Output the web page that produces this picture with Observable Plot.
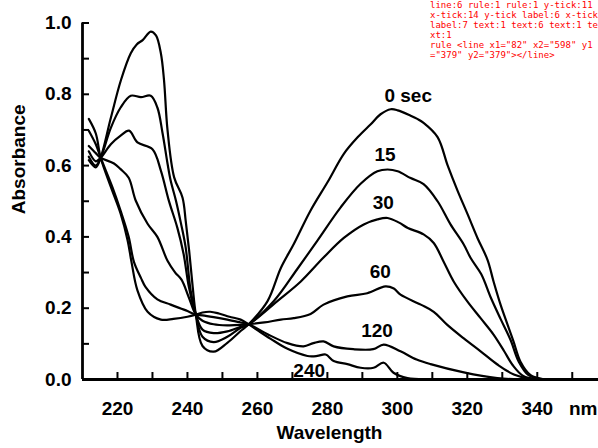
<!DOCTYPE html>
<html><head><meta charset="utf-8">
<script src="https://cdn.jsdelivr.net/npm/d3@7"></script>
<script src="https://cdn.jsdelivr.net/npm/@observablehq/plot@0.6"></script>
<style>html,body{margin:0;padding:0;background:#fff;} #dbg{position:absolute;left:430px;top:0;width:168px;font:9px monospace;color:red;white-space:pre-wrap;word-break:break-all;}</style>
</head><body><div id="chart"></div><div id="dbg"></div>
<script>
const seriesNames = ["0 sec", "15", "30", "60", "120", "240"];
const s0 = [[211.8,0.615],[213.8,0.595],[215.2,0.622],[218,0.73],[221,0.84],[223.8,0.915],[225.5,0.94],[227.2,0.952],[229.5,0.976],[231,0.965],[232.4,0.915],[233.3,0.84],[234.3,0.70],[236.2,0.567],[238.6,0.51],[239.5,0.445],[240.5,0.36],[241.5,0.26],[242.4,0.182],[244.3,0.094],[247.5,0.078],[251.4,0.103],[255.2,0.136],[257.5,0.155],[262.9,0.22],[266.7,0.313],[270.4,0.38],[275.2,0.474],[280.2,0.556],[284.7,0.633],[288.7,0.68],[292.4,0.716],[295.2,0.744],[298.1,0.758],[300.1,0.755],[303.8,0.74],[305.7,0.731],[307.5,0.72],[311.5,0.68],[314.4,0.60],[317.2,0.53],[320.1,0.463],[322.9,0.397],[325.8,0.335],[327.5,0.275],[329.5,0.21],[331.5,0.154],[333.2,0.107],[335.2,0.05],[338.1,0.012],[341,0.002],[345,0],[352,0]];
const s15 = [[211.8,0.625],[213.8,0.60],[215.2,0.622],[218.1,0.706],[220.9,0.763],[223.8,0.796],[226.7,0.792],[229.5,0.796],[231.4,0.763],[232.9,0.69],[234.3,0.606],[235.2,0.558],[236.7,0.502],[238.1,0.44],[239.5,0.37],[240.9,0.25],[242.4,0.182],[244.3,0.12],[247.5,0.105],[251.4,0.12],[255.2,0.145],[257.5,0.155],[264.7,0.22],[271.4,0.31],[277.1,0.389],[283.8,0.483],[289.5,0.549],[294.3,0.584],[297.2,0.589],[300.1,0.584],[303.8,0.565],[307.5,0.548],[311.5,0.50],[315.2,0.435],[318.9,0.38],[321,0.34],[324,0.295],[326.7,0.23],[329.5,0.17],[332.4,0.11],[334.7,0.05],[337.5,0.012],[341,0.002],[345,0],[352,0]];
const s30 = [[211.8,0.64],[213.8,0.612],[215.2,0.622],[218.1,0.66],[220.9,0.684],[223.3,0.698],[225.7,0.665],[230,0.646],[232.4,0.586],[234.7,0.501],[237.1,0.426],[238.9,0.352],[240.4,0.26],[242.4,0.182],[244.3,0.14],[247.5,0.13],[251.4,0.135],[255.2,0.148],[257.5,0.155],[265.7,0.22],[272.4,0.275],[278.9,0.342],[284.7,0.397],[290.4,0.435],[294.3,0.449],[297.2,0.453],[300.5,0.44],[303,0.425],[307.5,0.407],[310.4,0.383],[313.2,0.331],[316.1,0.275],[320,0.219],[323.8,0.172],[327.5,0.126],[330.5,0.08],[333,0.04],[336,0.01],[340,0.001],[352,0]];
const s60 = [[211.8,0.655],[213.8,0.635],[215.2,0.622],[219,0.606],[220.9,0.59],[223.2,0.566],[225.2,0.502],[228.6,0.437],[231.4,0.40],[234.3,0.333],[236.5,0.30],[238.3,0.28],[240.4,0.23],[242.4,0.182],[244.3,0.165],[247.5,0.155],[251.4,0.152],[255.2,0.153],[257.5,0.155],[262,0.16],[266.7,0.168],[270.4,0.172],[275.2,0.184],[278.9,0.21],[285.7,0.233],[291.4,0.242],[296.6,0.261],[299,0.255],[300.9,0.238],[306.7,0.21],[310.4,0.19],[314.2,0.154],[318.9,0.116],[323.8,0.079],[328.6,0.042],[333.3,0.014],[338,0.002],[352,0]];
const s120 = [[211.8,0.698],[213.8,0.66],[215.2,0.622],[218.6,0.538],[220.9,0.473],[223.2,0.40],[224.7,0.33],[226.7,0.285],[228,0.26],[231.4,0.225],[235.2,0.21],[240,0.192],[242.4,0.182],[244.3,0.18],[247.5,0.175],[251.4,0.168],[255.2,0.16],[257.5,0.155],[262.9,0.127],[268.6,0.102],[273.2,0.093],[276,0.102],[278.9,0.107],[281.8,0.093],[287.4,0.085],[293.1,0.085],[296.1,0.098],[300.9,0.079],[305.5,0.056],[309.5,0.043],[319,0.02],[328.6,0.004],[335,0],[352,0]];
const s240 = [[211.8,0.731],[213.8,0.69],[215.2,0.622],[218.1,0.54],[220.9,0.465],[222.9,0.39],[224,0.33],[225.7,0.25],[228.6,0.19],[232.4,0.168],[236,0.17],[240,0.176],[242.4,0.182],[244.3,0.188],[246.5,0.19],[249,0.185],[252,0.176],[255.2,0.168],[257.5,0.155],[260.5,0.135],[263.8,0.114],[268.6,0.086],[274.3,0.066],[277.1,0.066],[279.5,0.07],[281.8,0.052],[285.7,0.043],[289.5,0.033],[293.2,0.033],[296.1,0.047],[298.9,0.019],[302.9,0.004],[310,0],[352,0]];
const seriesData = [s0, s15, s30, s60, s120, s240];
const labelWl = [303.1, 296.5, 296.0, 295.1, 294.2, 274.8];
const labelAbs = [0.795, 0.629, 0.494, 0.303, 0.135, 0.025];
const xDomain = [210, 357.5];
const yDomain = [0, 1];
const xTicks = [220, 230, 240, 250, 260, 270, 280, 290, 300, 310, 320, 330, 340, 350];
const xTickLabels = [220, 240, 260, 280, 300, 320, 340];
const yTicks = [0, 0.1, 0.2, 0.3, 0.4, 0.5, 0.6, 0.7, 0.8, 0.9, 1.0];
const yTickLabels = [0, 0.2, 0.4, 0.6, 0.8, 1.0];
const rows = seriesNames.flatMap((name, i) => seriesData[i].map(([w, a]) => ({name, w, a})));
const labels = seriesNames.map((name, i) => ({name, w: labelWl[i], a: labelAbs[i]}));
const unitRows = [{text: "nm", w: 350}];
const chart = Plot.plot({
  width: 598, height: 448, marginLeft: 82, marginRight: 0, marginTop: 22.5, marginBottom: 69,
  x: {domain: xDomain, axis: null}, y: {domain: yDomain, axis: null},
  style: {fontFamily: "'Liberation Sans', Arial, sans-serif", fontSize: "19px", fontWeight: "bold", background: "white", color: "black"},
  marks: [
    Plot.line(rows, {x: "w", y: "a", z: "name", stroke: "black", strokeWidth: 2.2, curve: "catmull-rom"}),
    Plot.ruleY([yDomain[0]], {stroke: "black", strokeWidth: 2.8}),
    Plot.ruleX([xDomain[0]], {y1: yDomain[0], y2: yDomain[1], stroke: "black", strokeWidth: 2.8}),
    Plot.axisY(yTicks, {anchor: "left", tickSize: -7, strokeWidth: 2, fill: "none", label: null}),
    Plot.axisX(xTicks, {anchor: "bottom", tickSize: -7, strokeWidth: 2, fill: "none", label: null}),
    Plot.axisY(yTickLabels, {anchor: "left", tickSize: 0, tickPadding: 11, tickFormat: d3.format(".1f"), label: null}),
    Plot.axisX(xTickLabels, {anchor: "bottom", tickSize: 0, tickPadding: 22, label: null}),
    Plot.text(unitRows, {x: "w", text: "text", frameAnchor: "bottom", dy: 35, dx: 11}),
    Plot.text(labels, {x: "w", y: "a", text: "name"}),
    Plot.text(["Wavelength"], {frameAnchor: "bottom", dx: -11, dy: 59, text: d => d}),
    Plot.text(["Absorbance"], {frameAnchor: "left", rotate: -90, dx: -64, dy: 13, text: d => d})
  ]
});
document.getElementById("chart").append(chart);
const gs = [...chart.querySelectorAll("g[aria-label]")].map(g => g.getAttribute("aria-label").replace("axis ","") + ":" + g.childElementCount);
const r = chart.querySelector('g[aria-label="rule"] line');
document.getElementById("dbg").textContent = gs.join(" ") + "\nrule " + (r ? r.outerHTML : "none");
</script>
</body></html>
